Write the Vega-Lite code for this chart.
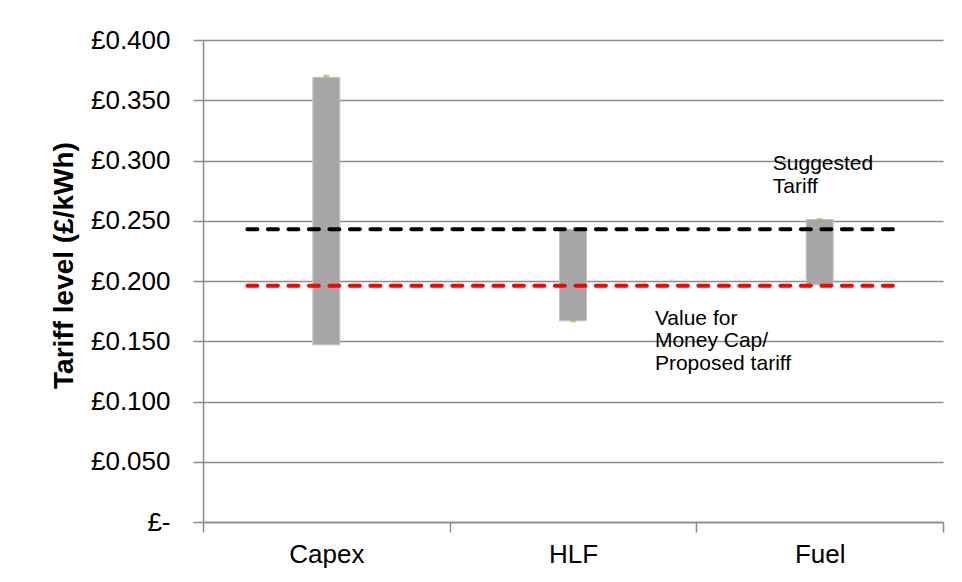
{
  "$schema": "https://vega.github.io/schema/vega-lite/v6.json",
  "width": 740,
  "height": 482,
  "autosize": {"type": "none"},
  "padding": {"left": 203, "top": 40, "right": 19, "bottom": 60},
  "background": "white",
  "config": {
    "view": {"stroke": null},
    "font": "Liberation Sans",
    "axis": {
      "labelFont": "Liberation Sans",
      "titleFont": "Liberation Sans",
      "labelColor": "#000000",
      "titleColor": "#000000",
      "domainColor": "#8C8C8C",
      "tickColor": "#8C8C8C",
      "gridColor": "#8C8C8C",
      "domainWidth": 1.5,
      "tickWidth": 1.5,
      "gridWidth": 1.5,
      "labelFontSize": 26
    }
  },
  "datasets": {
    "bars": [
      {"cat": "Capex", "low": 0.147, "high": 0.369, "marker": 0.370},
      {"cat": "HLF", "low": 0.167, "high": 0.243, "marker": 0.167},
      {"cat": "Fuel", "low": 0.197, "high": 0.251, "marker": 0.251}
    ],
    "lines": [
      {"name": "Suggested", "x": 0.18, "x2": 2.8, "y": 0.243},
      {"name": "VfM", "x": 0.18, "x2": 2.8, "y": 0.196}
    ],
    "notes": [
      {"x": 2.31, "y": 0.292, "text": "Suggested\nTariff"},
      {"x": 1.832, "y": 0.1635, "text": "Value for\nMoney Cap/\nProposed tariff"}
    ]
  },
  "resolve": {"scale": {"x": "independent"}, "axis": {"x": "independent"}},
  "layer": [
    {
      "layer": [
        {
          "data": {"name": "bars"},
          "mark": {"type": "bar", "color": "#A6A6A6", "size": 27, "stroke": "#C4C4C4", "strokeWidth": 1},
          "encoding": {
            "x": {
              "field": "cat", "type": "nominal", "sort": ["Capex", "HLF", "Fuel"],
              "scale": {"paddingInner": 0, "paddingOuter": 0},
              "axis": {"title": null, "orient": "bottom", "tickBand": "extent", "ticks": true, "tickSize": 10, "labelPadding": 9, "labelAngle": 0, "grid": false, "domain": true}
            },
            "y": {
              "field": "low", "type": "quantitative",
              "title": "Tariff level (£/kWh)",
              "scale": {"domain": [0, 0.4], "nice": false, "zero": true},
              "axis": {
                "values": [0, 0.05, 0.1, 0.15, 0.2, 0.25, 0.3, 0.35, 0.4],
                "grid": true, "tickSize": 10, "labelPadding": 23,
                "labelExpr": "datum.value == 0 ? '£-\u2007' : '£' + format(datum.value, '.3f')",
                "titleFontSize": 28, "titleFontWeight": "bold", "titlePadding": 12, "titleY": 225
              }
            },
            "y2": {"field": "high"}
          }
        },
        {
          "data": {"name": "bars"},
          "mark": {"type": "tick", "color": "#9BBB59", "size": 6, "thickness": 3},
          "encoding": {
            "x": {"field": "cat", "type": "nominal", "sort": ["Capex", "HLF", "Fuel"]},
            "y": {"field": "marker", "type": "quantitative", "title": "Tariff level (£/kWh)"}
          }
        }
      ]
    },
    {
      "layer": [
        {
          "data": {"name": "lines"},
          "mark": {"type": "rule", "strokeDash": [10, 10.5], "strokeWidth": 4, "strokeCap": "round"},
          "encoding": {
            "x": {"field": "x", "type": "quantitative", "scale": {"domain": [0, 3], "nice": false, "zero": false}, "axis": null},
            "x2": {"field": "x2"},
            "y": {"field": "y", "type": "quantitative", "title": "Tariff level (£/kWh)"},
            "color": {"field": "name", "type": "nominal", "scale": {"domain": ["Suggested", "VfM"], "range": ["#000000", "#FF0000"]}, "legend": null}
          }
        },
        {
          "data": {"name": "notes"},
          "mark": {"type": "text", "align": "left", "baseline": "alphabetic", "fontSize": 21, "lineHeight": 22.5, "lineBreak": "\n", "font": "Liberation Sans", "color": "#000000"},
          "encoding": {
            "x": {"field": "x", "type": "quantitative"},
            "y": {"field": "y", "type": "quantitative", "title": "Tariff level (£/kWh)"},
            "text": {"field": "text"}
          }
        }
      ]
    }
  ]
}
